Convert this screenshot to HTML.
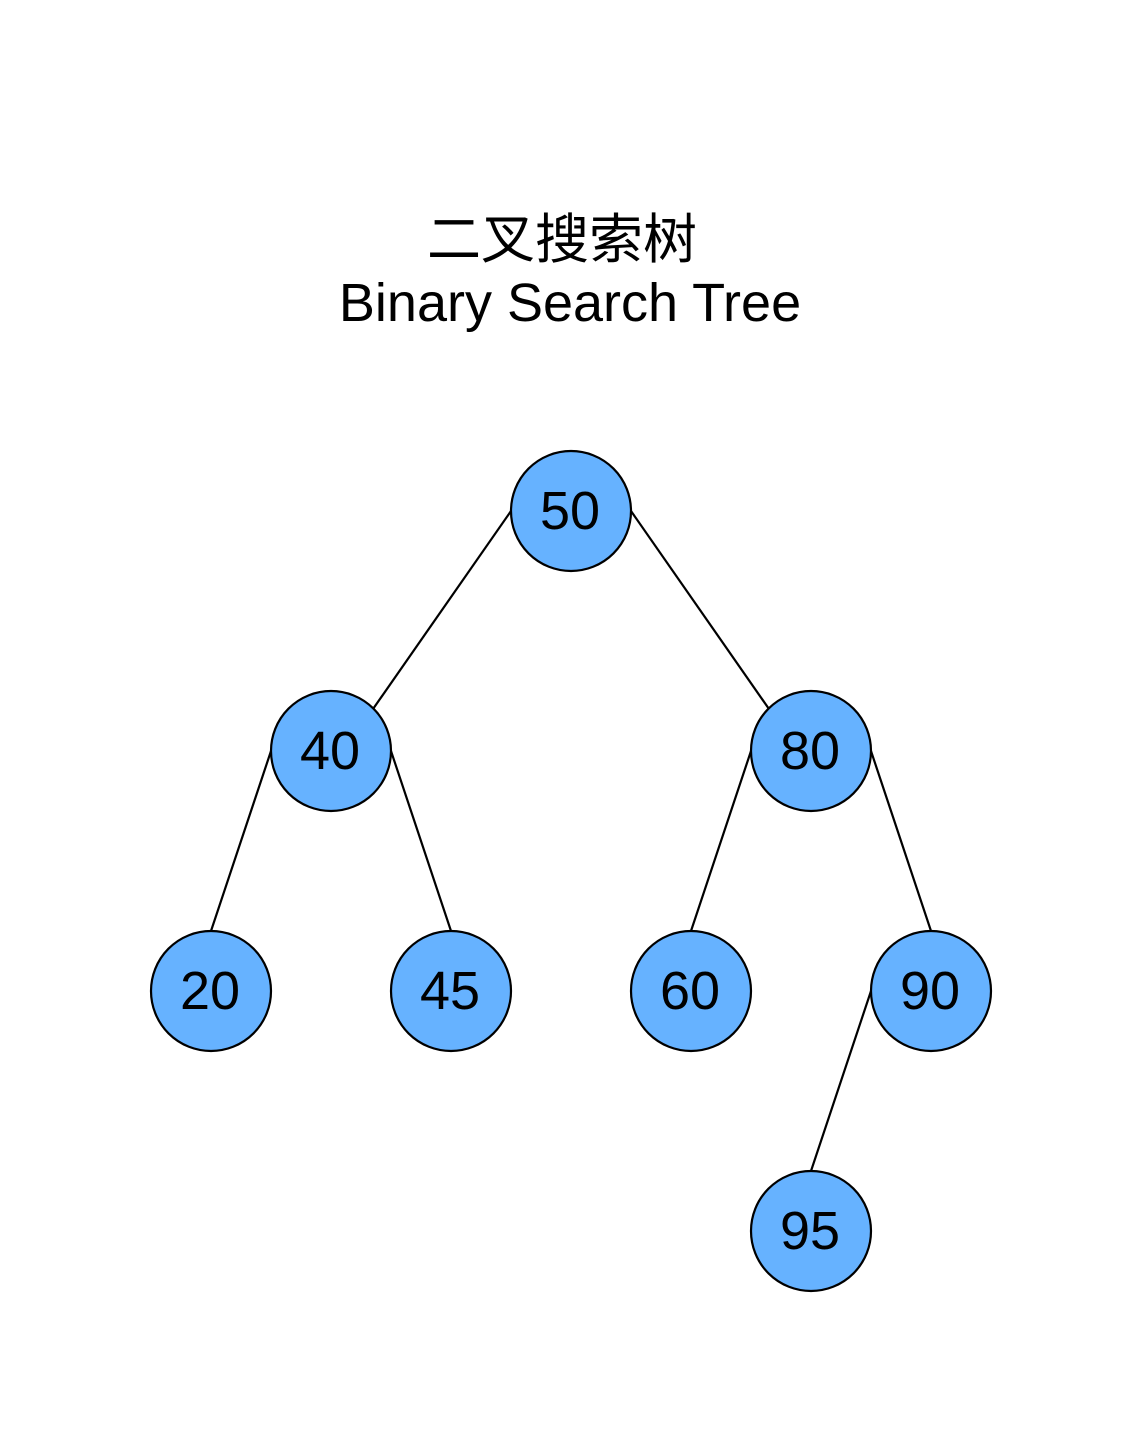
<!DOCTYPE html>
<html><head><meta charset="utf-8"><style>
html,body{margin:0;padding:0;background:#fff}
</style></head><body>
<svg width="1143" height="1443" viewBox="0 0 1143 1443" xmlns="http://www.w3.org/2000/svg">
<rect width="1143" height="1443" fill="#fff"/>
<text x="562" y="258" font-family="'Liberation Sans','Noto Sans CJK SC',sans-serif" font-size="54" text-anchor="middle" fill="#000">二叉搜索树</text>
<text x="570" y="321" font-family="'Liberation Sans',sans-serif" font-size="54" text-anchor="middle" fill="#000">Binary Search Tree</text>
<g stroke="#000" stroke-width="2.2" fill="none">
<line x1="511" y1="511" x2="373" y2="709"/>
<line x1="631" y1="511" x2="769" y2="709"/>
<line x1="271" y1="751" x2="211" y2="931"/>
<line x1="391" y1="751" x2="451" y2="931"/>
<line x1="751" y1="751" x2="691" y2="931"/>
<line x1="871" y1="751" x2="931" y2="931"/>
<line x1="871" y1="991" x2="811" y2="1171"/>
</g>
<g fill="#66b2ff" stroke="#000" stroke-width="2.2">
<circle cx="571" cy="511" r="60"/>
<circle cx="331" cy="751" r="60"/>
<circle cx="811" cy="751" r="60"/>
<circle cx="211" cy="991" r="60"/>
<circle cx="451" cy="991" r="60"/>
<circle cx="691" cy="991" r="60"/>
<circle cx="931" cy="991" r="60"/>
<circle cx="811" cy="1231" r="60"/>
</g>
<g font-family="'Liberation Sans',sans-serif" font-size="54" text-anchor="middle" fill="#000">
<text x="570" y="529">50</text>
<text x="330" y="769">40</text>
<text x="810" y="769">80</text>
<text x="210" y="1009">20</text>
<text x="450" y="1009">45</text>
<text x="690" y="1009">60</text>
<text x="930" y="1009">90</text>
<text x="810" y="1249">95</text>
</g>
</svg>
</body></html>
